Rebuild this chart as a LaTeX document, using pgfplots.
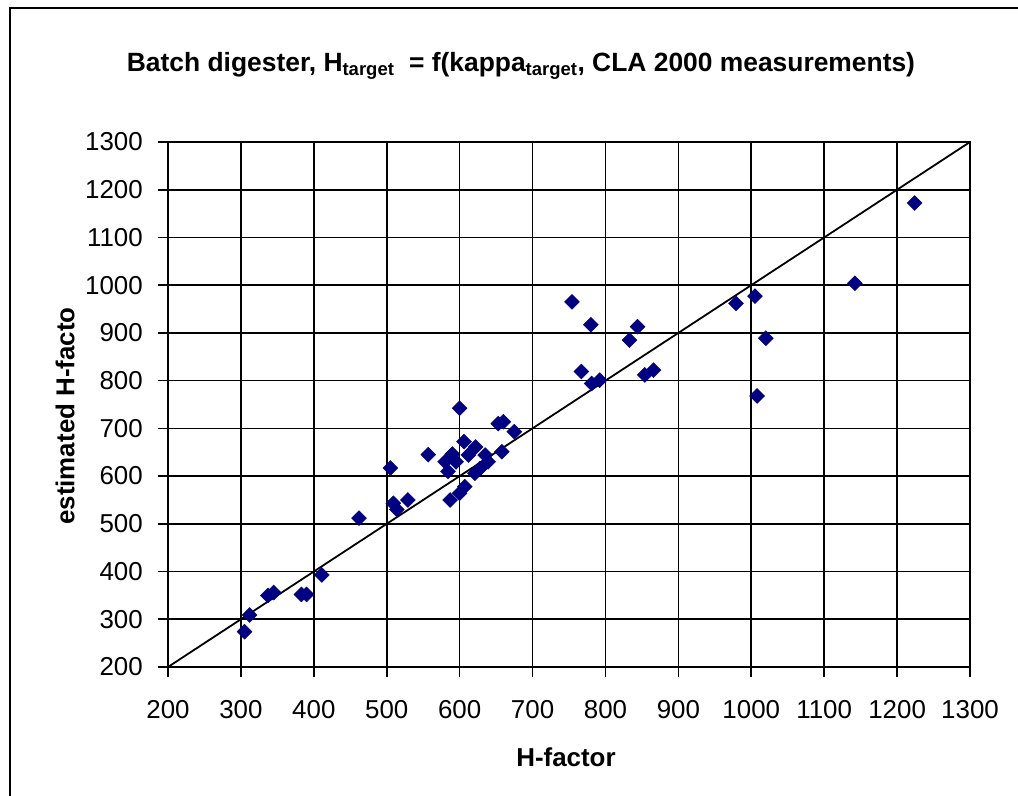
\documentclass[border=0pt]{standalone}
\usepackage{pgfplots}
\pgfplotsset{compat=1.18}
\usepackage{pgfplotstable}
\usepackage{fontspec}
\setmainfont{Liberation Sans}
\definecolor{navy}{RGB}{0,0,128}
\pgfplotstableread{
x y
305 274
312 309
337 350
345 356
383 352
390 352
411 393
462 512
505 617
509 543
514 530
529 550
557 645
580 630
584 610
587 550
590 646
595 630
600 742
600 564
606 672
607 578
612 644
621 606
622 661
628 616
635 644
639 630
653 710
658 651
660 714
675 693
754 965
767 819
780 917
781 794
792 801
833 885
844 913
854 812
866 822
979 962
1005 977
1008 768
1020 889
1142 1004
1224 1172
}\datatable
\begin{document}
\begin{tikzpicture}[x=1bp,y=1bp]
\useasboundingbox (0,0) rectangle (1018,796);
\draw[line width=2bp] (10,-20) -- (10,788) -- (1040,788);
\begin{axis}[
  at={(168bp,129bp)}, anchor=south west,
  width=802bp, height=525bp, scale only axis,
  xmin=200, xmax=1300, ymin=200, ymax=1300,
  xtick distance=100, ytick distance=100,
  grid=major, grid style={black, line width=1.6bp},
  axis line style={black, line width=1.6bp},
  tick style={black, line width=1.6bp},
  major tick length=10bp, tick align=outside,
  xtick pos=left, ytick pos=left,
  /pgf/number format/assume math mode=true,
  /pgf/number format/1000 sep={},
  ticklabel style={font=\fontsize{26}{30}\selectfont},
  yticklabel style={inner sep=0pt, xshift=-15bp},
  xticklabel style={inner sep=0pt, yshift=-23bp},
  clip=false,
]
\addplot[black, line width=1.8bp, no marks] coordinates {(200,200) (1300,1300)};
\addplot[only marks, mark=square*, mark size=5.3bp, mark options={rotate=45, fill=navy, draw=navy}] table[x=x,y=y]{\datatable};
\end{axis}
\node[font=\fontsize{26.5}{30}\selectfont\bfseries] at (521,730) {Batch digester, H\textsubscript{target}\ \ = f(kappa\textsubscript{target}, CLA 2000 measurements)};
\node[font=\fontsize{26}{30}\selectfont\bfseries] at (566,39) {H-factor};
\node[font=\fontsize{26}{30}\selectfont\bfseries, rotate=90] at (65,380) {estimated H-facto};
\end{tikzpicture}
\end{document}
